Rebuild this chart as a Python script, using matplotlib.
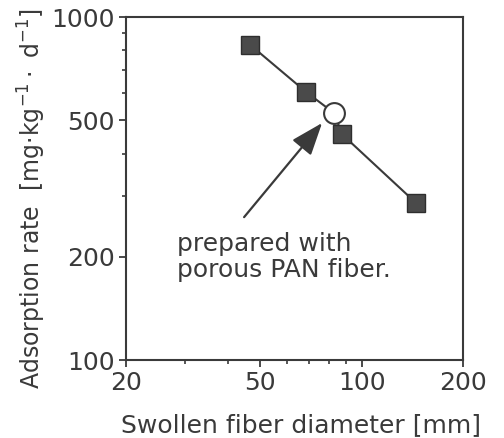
import numpy as np
import matplotlib
matplotlib.use('Agg')
import matplotlib.pyplot as plt
from matplotlib.ticker import FixedLocator, NullFormatter

# data (log-log)
pan_diam = [46.7, 68.4, 87.5, 145.0]      # swollen fiber diameter [mm]
pan_rate = [830, 605, 455, 287]           # adsorption rate
porous_diam = [82.8]
porous_rate = [525]

xticks = [20, 50, 100, 200]
yticks = [100, 200, 500, 1000]
xminor = [30, 40, 60, 70, 80, 90]
yminor = [300, 400, 600, 700, 800, 900]

ink = '#3a3a3a'
plt.rcParams['font.family'] = ['DejaVu Sans']
plt.rcParams['font.size'] = 18

fig = plt.figure(figsize=(5.04, 4.38), dpi=100)
ax = fig.add_axes([0.25, 0.178, 0.669, 0.783])

# line joins all points in diameter order
lx = np.array(pan_diam + porous_diam)
ly = np.array(pan_rate + porous_rate)
order = np.argsort(lx)
ax.plot(lx[order], ly[order], color=ink, lw=1.5, zorder=2)
ax.plot(pan_diam, pan_rate, ls='none', marker='s', ms=13,
        mfc='#4a4a4a', mec='#2e2e2e', mew=1, zorder=3)
ax.plot(porous_diam, porous_rate, ls='none', marker='o', ms=15,
        mfc='white', mec=ink, mew=1.5, zorder=4)

ax.annotate('', xy=(76.3, 491), xytext=(44.8, 261),
            arrowprops=dict(arrowstyle='-|>,head_length=0.8,head_width=0.3',
                            mutation_scale=25, lw=1.6, color=ink,
                            shrinkA=0, shrinkB=0))
ax.text(28.3, 200, 'prepared with\nporous PAN fiber.', ha='left', va='center',
        color=ink, fontsize=18, linespacing=1.1)

ax.set_xscale('log')
ax.set_yscale('log')
ax.set_xlim(20, 200)
ax.set_ylim(100, 1000)

ax.xaxis.set_major_locator(FixedLocator(xticks))
ax.yaxis.set_major_locator(FixedLocator(yticks))
ax.xaxis.set_minor_locator(FixedLocator(xminor))
ax.yaxis.set_minor_locator(FixedLocator(yminor))
ax.xaxis.set_minor_formatter(NullFormatter())
ax.yaxis.set_minor_formatter(NullFormatter())
ax.set_xticklabels([str(v) for v in xticks])
ax.set_yticklabels([str(v) for v in yticks])

ax.tick_params(which='major', direction='out', length=5, width=1.3,
               color=ink, labelcolor=ink, labelsize=18, pad=3)
ax.tick_params(which='minor', direction='out', length=3, width=1.2, color=ink)
for s in ax.spines.values():
    s.set_color(ink)
    s.set_linewidth(1.5)

ax.set_xlabel('Swollen fiber diameter [mm]', color=ink, fontsize=18)
ax.xaxis.set_label_coords(0.52, -0.155)
ax.set_ylabel(r'Adsorption rate  [mg$\cdot$kg$^{-1}\cdot$ d$^{-1}$]',
              color=ink, fontsize=17)
ax.yaxis.set_label_coords(-0.23, 0.47)

fig.savefig('out.png', dpi=100)
